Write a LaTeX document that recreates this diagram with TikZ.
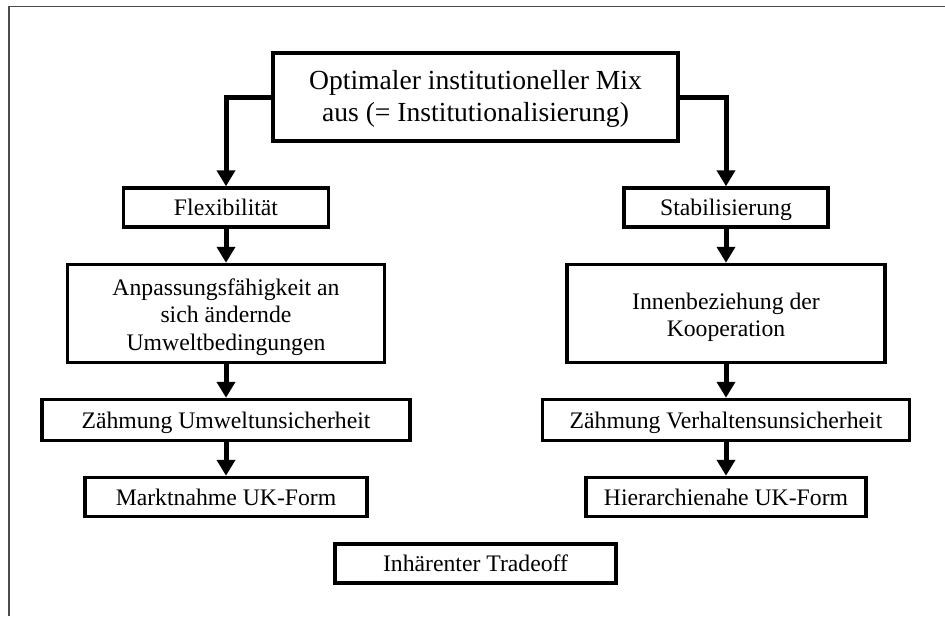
\documentclass[tikz,border=0pt]{standalone}
\usepackage{fontspec}
\setmainfont{Liberation Serif}
\usetikzlibrary{arrows.meta}
\newcommand\stuetze[1]{\rule{0pt}{#1}}
\tikzset{
  kasten/.style={draw,line width=3.5pt,inner sep=0pt,align=center,
    font=\fontsize{23.7}{27.8}\selectfont},
  zeile/.style={kasten,text height=17pt,text depth=1pt},
  pfeil/.style={line width=5pt,-{Triangle[width=18pt,length=16pt]}}
}
\begin{document}
\begin{tikzpicture}[x=1pt,y=-1pt]
  \useasboundingbox (0,0) rectangle (945,616);
  \draw[gray!60!black,line width=1.8pt](9,616)--(9,6.5)--(945,6.5);
  % Kaesten
  \node[kasten,font=\fontsize{27.6}{31.6}\selectfont,minimum width=405,minimum height=88](mix) at (475.5,97)
    {\stuetze{23pt}Optimaler institutioneller Mix\\aus (= Institutionalisierung)};
  \node[zeile,minimum width=205,minimum height=39](flex) at (226,207.5) {Flexibilität};
  \node[zeile,minimum width=204,minimum height=39](stab) at (726,207.5) {Stabilisierung};
  \node[kasten,minimum width=317,minimum height=98](anp) at (226,313.5)
    {\stuetze{24pt}Anpassungsfähigkeit an\\sich ändernde\\Umweltbedingungen};
  \node[kasten,minimum width=318,minimum height=98](innen) at (726,313.5)
    {\stuetze{24pt}Innenbeziehung der\\Kooperation};
  \node[zeile,minimum width=368,minimum height=41](zuw) at (226,420) {Zähmung Umweltunsicherheit};
  \node[zeile,minimum width=367,minimum height=41](zvh) at (726,420) {Zähmung Verhaltensunsicherheit};
  \node[zeile,minimum width=282,minimum height=39](markt) at (226,497) {Marktnahme UK-Form};
  \node[zeile,minimum width=280,minimum height=39](hier) at (726,497) {Hierarchienahe UK-Form};
  \node[zeile,minimum width=281,minimum height=39](trade) at (475.5,563.5) {Inhärenter Tradeoff};
  % Pfeile
  \draw[pfeil](mix.west) -| (flex.north);
  \draw[pfeil](mix.east) -| (stab.north);
  \draw[pfeil](flex) -- (anp);
  \draw[pfeil](anp) -- (zuw);
  \draw[pfeil](zuw) -- (markt);
  \draw[pfeil](stab) -- (innen);
  \draw[pfeil](innen) -- (zvh);
  \draw[pfeil](zvh) -- (hier);
\end{tikzpicture}
\end{document}
